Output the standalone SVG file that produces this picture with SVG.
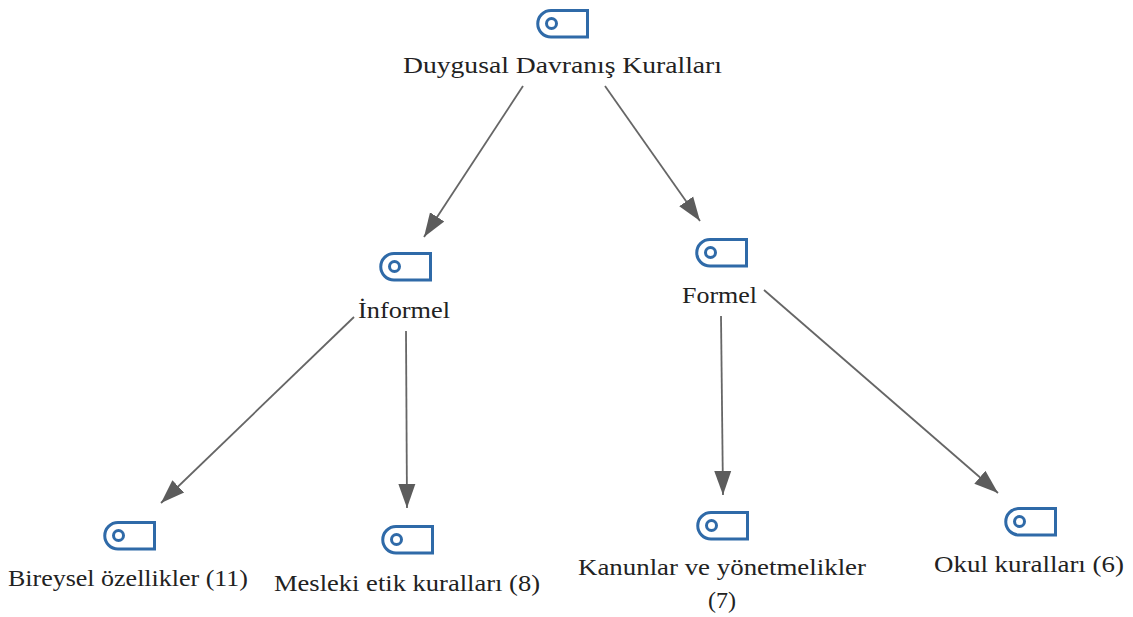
<svg xmlns="http://www.w3.org/2000/svg" width="1133" height="617" viewBox="0 0 1133 617">
<style>
text{font-family:"Liberation Serif","DejaVu Serif",serif;font-size:24px;fill:#222;text-anchor:start}
.c{stroke:#666;stroke-width:1.8;fill:none;marker-end:url(#a)}
.i{fill:none;stroke:#2f6aa8;stroke-width:3}
</style>
<defs>
<marker id="a" markerUnits="userSpaceOnUse" markerWidth="26" markerHeight="20" refX="24" refY="10" orient="auto"><path d="M0,1.5L24,10L0,18.5Z" fill="#5c5c5c"/></marker>
<g id="t"><path class="i" d="M52,1.5V28H15.5A13.25,13.25 0 0 1 15.5,1.5Z"/><circle class="i" cx="16" cy="14.5" r="5"/></g>
</defs>
<rect width="1133" height="617" fill="#fff"/>
<g id="connectors">
<path class="c" d="M523,86L424,237"/>
<path class="c" d="M605,86L700,221"/>
<path class="c" d="M354,317L161,503"/>
<path class="c" d="M406,331L407,508"/>
<path class="c" d="M721,316L723,495"/>
<path class="c" d="M764,290L998,493"/>
</g>
<g id="n1"><use href="#t" x="535.5" y="9"/><text x="403" y="73" textLength="319" lengthAdjust="spacingAndGlyphs">Duygusal Davranış Kuralları</text></g>
<g id="n2"><use href="#t" x="378.5" y="252"/><text x="358" y="318" textLength="92" lengthAdjust="spacingAndGlyphs">İnformel</text></g>
<g id="n3"><use href="#t" x="694.5" y="238"/><text x="682" y="303" textLength="75" lengthAdjust="spacingAndGlyphs">Formel</text></g>
<g id="n4"><use href="#t" x="102.5" y="521"/><text x="8" y="586" textLength="240" lengthAdjust="spacingAndGlyphs">Bireysel özellikler (11)</text></g>
<g id="n5"><use href="#t" x="380.5" y="525"/><text x="274" y="591" textLength="266" lengthAdjust="spacingAndGlyphs">Mesleki etik kuralları (8)</text></g>
<g id="n6"><use href="#t" x="695.5" y="511"/><text x="578" y="575" textLength="288" lengthAdjust="spacingAndGlyphs">Kanunlar ve yönetmelikler</text><text x="708" y="608" textLength="28" lengthAdjust="spacingAndGlyphs">(7)</text></g>
<g id="n7"><use href="#t" x="1003.5" y="507"/><text x="934" y="572" textLength="190" lengthAdjust="spacingAndGlyphs">Okul kuralları (6)</text></g>
</svg>
